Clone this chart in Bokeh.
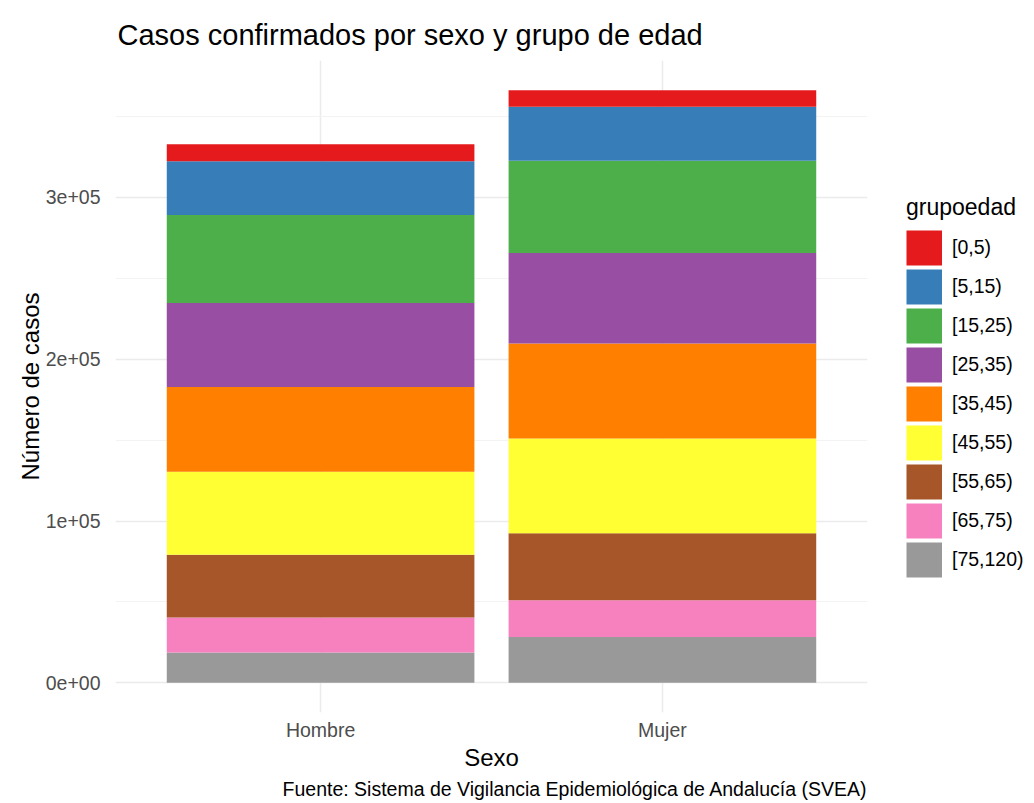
from bokeh.plotting import figure
from bokeh.models import (ColumnDataSource, FactorRange, Range1d, FixedTicker,
                          Legend, LegendItem, Title)
from bokeh.embed import file_html
from bokeh.resources import INLINE

# ---- data ----
sexo = ["Hombre", "Mujer"]
grupos = ["[0,5)", "[5,15)", "[15,25)", "[25,35)", "[35,45)",
          "[45,55)", "[55,65)", "[65,75)", "[75,120)"]
hombre = [10500, 33300, 54400, 51900, 52400, 51300, 38700, 21700, 18700]
mujer = [10300, 33400, 57000, 55900, 58700, 58500, 41400, 22700, 28400]
colores = ["#E41A1C", "#377EB8", "#4DAF4A", "#984EA3", "#FF7F00",
           "#FFFF33", "#A65628", "#F781BF", "#999999"]
y_ticks = [0, 100000, 200000, 300000]
y_minor = [50000, 150000, 250000, 350000]
y_labels = ["0e+00", "1e+05", "2e+05", "3e+05"]

FONT = "Liberation Sans"

data = {"sexo": sexo}
for g, h, m in zip(grupos, hombre, mujer):
    data[g] = [h, m]
src = ColumnDataSource(data)

total_max = max(sum(hombre), sum(mujer))
pad = 0.05 * total_max

p = figure(
    x_range=FactorRange(factors=sexo, range_padding=0.1,
                        range_padding_units="absolute"),
    y_range=Range1d(-pad, total_max + pad),
    frame_width=752, frame_height=652,
    min_border_left=115, min_border_right=165,
    min_border_top=60, min_border_bottom=89,
    output_backend="svg", toolbar_location=None,
    title="Casos confirmados por sexo y grupo de edad",
)
p.background_fill_color = "white"
p.border_fill_color = "white"
p.outline_line_color = None

stackers = grupos[::-1]
renderers = p.vbar_stack(stackers, x="sexo", width=0.9, source=src,
                         fill_color=colores[::-1], line_color=None)

# title
p.title.text_font = FONT
p.title.text_font_size = "29px"
p.title.text_font_style = "normal"
p.title.text_color = "black"
p.title.align = "left"
p.title.offset = 2
p.title.standoff = 19

# axes
for ax in (p.xaxis, p.yaxis):
    ax.axis_line_color = None
    ax.major_tick_line_color = None
    ax.minor_tick_line_color = None
    ax.major_tick_out = 0
    ax.minor_tick_out = 0
    ax.major_tick_in = 0
    ax.minor_tick_in = 0
    ax.major_label_text_font = FONT
    ax.major_label_text_font_size = "19.5px"
    ax.major_label_text_color = "#4D4D4D"
    ax.axis_label_text_font = FONT
    ax.axis_label_text_font_size = "24px"
    ax.axis_label_text_font_style = "normal"
    ax.axis_label_text_color = "black"

p.xaxis.axis_label = "Sexo"
p.yaxis.axis_label = "Número de casos"
p.xaxis.major_label_standoff = 6
p.xaxis.axis_label_standoff = 0
p.yaxis.major_label_standoff = 15
p.yaxis.axis_label_standoff = -1

p.yaxis.ticker = FixedTicker(ticks=y_ticks, minor_ticks=y_minor)
p.yaxis.major_label_overrides = {t: l for t, l in zip(y_ticks, y_labels)}

# grids
p.ygrid.grid_line_color = "#EBEBEB"
p.ygrid.grid_line_width = 1.5
p.ygrid.minor_grid_line_color = "#F3F3F3"
p.ygrid.minor_grid_line_width = 1
p.xgrid.grid_line_color = "#EBEBEB"
p.xgrid.grid_line_width = 1.5

# legend: square keys drawn as thick legend lines (a NaN point draws nothing in the plot)
key_renderers = [p.line(x=[sexo[0]], y=[float("nan")], line_color=c,
                        line_width=35, line_cap="butt")
                 for c in colores]
items = [LegendItem(label=g, renderers=[r]) for g, r in zip(grupos, key_renderers)]
legend = Legend(items=items, location=(39, 133), title="grupoedad",
                glyph_width=36, glyph_height=39, spacing=0,
                label_standoff=10, padding=0, margin=0,
                border_line_color=None, background_fill_alpha=0,
                label_text_font=FONT, label_text_font_size="19.5px",
                label_text_color="black",
                title_text_font=FONT, title_text_font_size="23px",
                title_text_font_style="normal", title_text_color="black",
                title_standoff=7)
p.add_layout(legend, "right")

# caption
caption = Title(text="Fuente: Sistema de Vigilancia Epidemiológica de Andalucía (SVEA)",
                align="right", text_font=FONT, text_font_size="19.5px",
                text_font_style="normal", text_color="black", standoff=4)
p.add_layout(caption, "below")

open("out.html", "w").write(file_html(p, INLINE))
